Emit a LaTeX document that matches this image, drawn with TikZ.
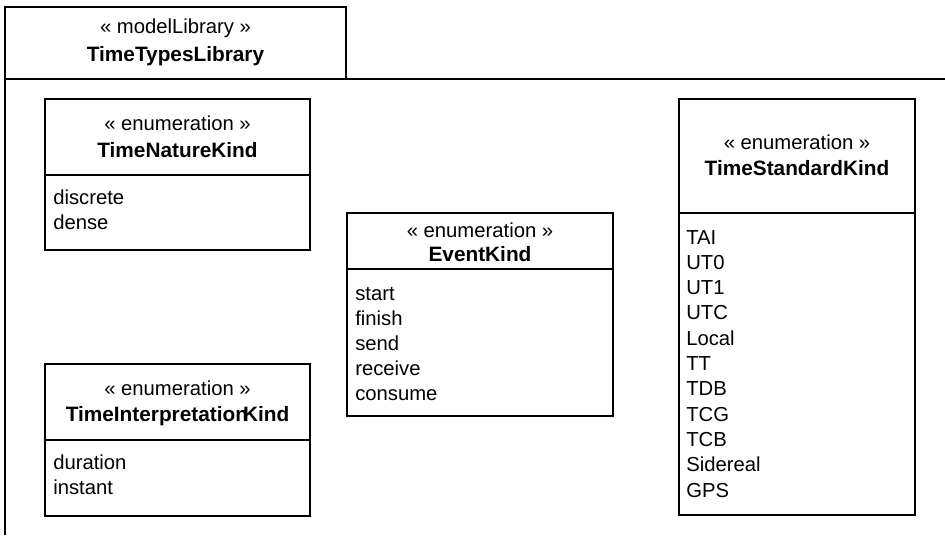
\documentclass[tikz,border=0pt]{standalone}
\usepackage{fontspec}
\setmainfont{Liberation Sans}

\tikzset{
  frame/.style={draw=black, line width=0.9pt},
  stereo/.style={font=\fontsize{15.2}{18}\selectfont, anchor=base, inner sep=0pt},
  title/.style={font=\fontsize{15.6}{18}\selectfont\bfseries, anchor=base, inner sep=0pt},
  lit/.style={font=\fontsize{15.2}{18}\selectfont, anchor=base west, inner sep=0pt}
}

\begin{document}
\begin{tikzpicture}[x=0.75pt,y=-0.75pt]
  \useasboundingbox (0,0) rectangle (945,535);

  % package frame
  \draw[frame] (5,535) -- (5,7) -- (346,7) -- (346,79);
  \draw[frame] (5,79) -- (945,79);
  \node[stereo] (libS) at (175.5,34) {« modelLibrary »};
  \node[title] (libT) at (175.5,62) {TimeTypesLibrary};

  % TimeNatureKind
  \draw[frame] (45,99) rectangle (310,250);
  \draw[frame] (45,175) -- (310,175);
  \node[stereo] (tnkS) at (177.5,130) {« enumeration »};
  \node[title] (tnkT) at (177.5,157) {TimeNatureKind};
  \foreach \lit [count=\i from 0] in {discrete,dense}
    \node[lit] (tnk\i) at (53,204+25*\i) {\lit};

  % TimeInterpretationKind
  \draw[frame] (45,364) rectangle (310,516);
  \draw[frame] (45,440) -- (310,440);
  \node[stereo] (tikS) at (177.5,395) {« enumeration »};
  \node[title] (tikT) at (177.5,421) {TimeInterpretation\kern-0.24em Kind};
  \foreach \lit [count=\i from 0] in {duration,instant}
    \node[lit] (tik\i) at (53,469+25*\i) {\lit};

  % EventKind
  \draw[frame] (347,213) rectangle (613,416);
  \draw[frame] (347,269) -- (613,269);
  \node[stereo] (ekS) at (480,237) {« enumeration »};
  \node[title] (ekT) at (480,261) {EventKind};
  \foreach \lit [count=\i from 0] in {start,finish,send,receive,consume}
    \node[lit] (ek\i) at (355,300+25*\i) {\lit};

  % TimeStandardKind
  \draw[frame] (679,99) rectangle (915,515);
  \draw[frame] (679,213) -- (915,213);
  \node[stereo] (tskS) at (797,149) {« enumeration »};
  \node[title] (tskT) at (797,175) {TimeStandardKind};
  \foreach \lit [count=\i from 0] in {TAI,UT0,UT1,UTC,Local,TT,TDB,TCG,TCB,Sidereal,GPS}
    \node[lit] (tsk\i) at (686,244+25.3*\i) {\lit};
\end{tikzpicture}
\end{document}
